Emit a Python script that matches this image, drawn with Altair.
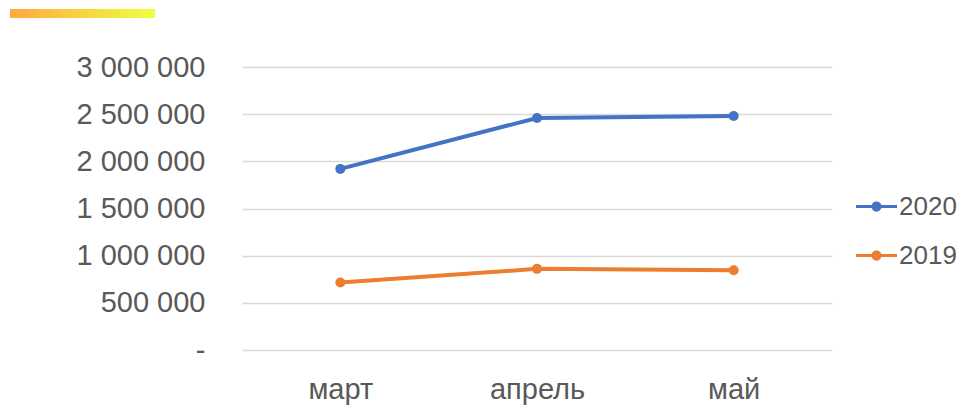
import altair as alt
import pandas as pd

months = ["март", "апрель", "май"]
series = ["2020", "2019"]
v2020 = [1920000, 2460000, 2480000]
v2019 = [715000, 860000, 845000]
colors = ["#4472C4", "#ED7D31"]
y_ticks = [0, 500000, 1000000, 1500000, 2000000, 2500000, 3000000]

rows = []
for s, vals in zip(series, [v2020, v2019]):
    for m, v in zip(months, vals):
        rows.append({"month": m, "year": s, "value": v})
df = pd.DataFrame(rows)

FONT = "Liberation Sans"
TXT = "#595959"
FS = 29

x = alt.X("month:N", sort=months, title=None,
          scale=alt.Scale(type="point", padding=0.5),
          axis=alt.Axis(labelFontSize=FS, labelFont=FONT, labelColor=TXT,
                        labelPadding=25, domain=False, ticks=False, grid=False,
                        labelAngle=0))
y = alt.Y("value:Q", title=None,
          scale=alt.Scale(domain=[0, 3000000], nice=False),
          axis=alt.Axis(values=y_ticks, labelFontSize=FS, labelFont=FONT,
                        labelColor=TXT, labelPadding=37, domain=False, ticks=False,
                        gridColor="#D9D9D9", gridWidth=1.5,
                        labelExpr="datum.value == 0 ? '-\u00a0\u00a0' : replace(format(datum.value, ','), /,/g, ' ')"))
color_scale = alt.Scale(domain=series, range=colors)

lines = alt.Chart(df).mark_line(strokeWidth=4).encode(
    x=x, y=y,
    color=alt.Color("year:N", scale=color_scale, legend=None),
)

legend_path = ("M-1,-0.075 L1,-0.075 L1,0.075 L-1,0.075 Z "
               "M-0.25,0 A0.25,0.25 0 1,1 0.25,0 A0.25,0.25 0 1,1 -0.25,0 Z")

points = alt.Chart(df).mark_point(filled=True, size=100, opacity=1).encode(
    x=x, y=y,
    color=alt.Color("year:N", scale=color_scale, sort=series,
                    legend=alt.Legend(title=None, orient="none", legendX=614, legendY=119,
                                      symbolType=legend_path, symbolSize=1681,
                                      symbolStrokeWidth=0, labelFontSize=26,
                                      labelFont=FONT, labelColor=TXT,
                                      rowPadding=15, labelOffset=2,
                                      symbolOpacity=1, labelLimit=200)),
)

grad = alt.LinearGradient(
    gradient="linear",
    stops=[alt.GradientStop(color="#FFA940", offset=0),
           alt.GradientStop(color="#EEFF40", offset=1)],
    x1=0, x2=1, y1=0, y2=0,
)
bar = alt.Chart(alt.Data(values=[{"k": 1}])).mark_rect(color=grad).encode(
    x=alt.value(-232), x2=alt.value(-87), y=alt.value(-58), y2=alt.value(-49)
)

chart = alt.layer(bar, lines, points).resolve_legend(color="independent").properties(
    width=590, height=283,
    background="white",
    autosize=alt.AutoSizeParams(type="none"),
    padding={"left": 234, "top": 59, "right": 125, "bottom": 56},
).configure_view(strokeWidth=0, stroke="transparent")

chart.save("out.html", embed_options={"renderer": "svg", "actions": False})
